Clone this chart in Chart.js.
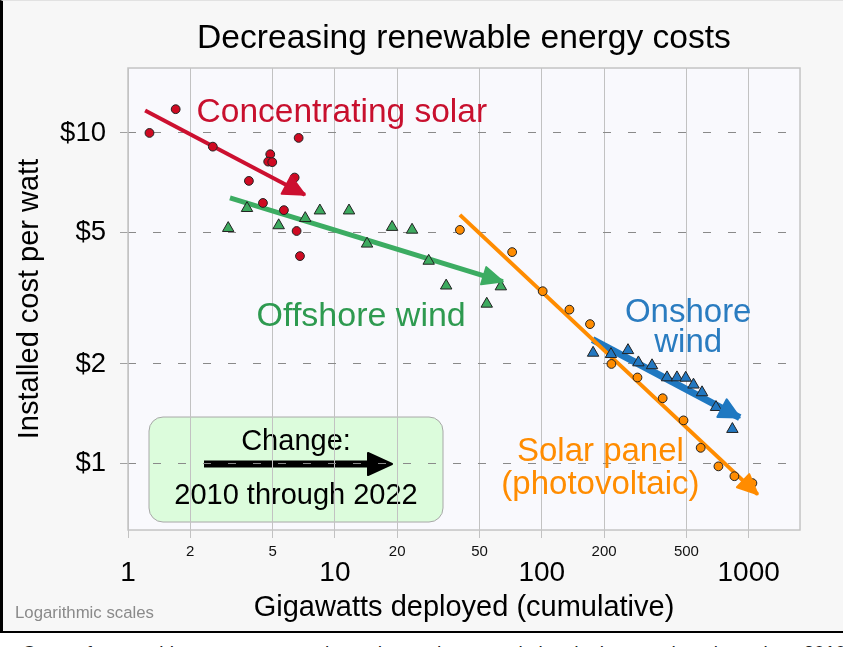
<!DOCTYPE html>
<html>
<head>
<meta charset="utf-8">
<script src="https://cdn.jsdelivr.net/npm/chart.js@4.4.1/dist/chart.umd.min.js"></script>
<style>
  html, body { margin: 0; padding: 0; background: #fff; overflow: hidden; width: 843px; height: 647px;
    font-family: "Liberation Sans", Arial, sans-serif; }
  #frame { position: absolute; left: 0; top: 0; width: 843px; height: 633px; box-sizing: border-box;
    background: #f7f7f7; border-left: 3px solid #000; border-bottom: 2px solid #000; border-top: 1px solid #e2e2e2; }
  #wrap { position: absolute; left: 0; top: 0; width: 843px; height: 630px; }
  #caption { position: absolute; left: 22px; top: 642px; font-size: 19px; color: #202122; white-space: nowrap; }
</style>
</head>
<body>
<div id="frame"></div>
<div id="wrap"><canvas id="costChart" width="843" height="630"></canvas></div>
<div id="caption">Costs of renewable energy sources have dropped as cumulative deployment has risen since 2010. Data source (2023)</div>
<script>
// data: cumulative GW deployed vs installed $ per watt

// concentrating solar
const cspGW   = [1.27, 1.70, 2.57, 4.87, 4.76, 4.98, 6.68, 6.39, 3.84, 4.49, 5.67, 6.53, 6.78];
const cspCost = [10.0, 11.8, 9.09, 8.62, 8.19, 8.16, 9.66, 7.33, 7.16, 6.14, 5.84, 5.05, 4.24];

// offshore wind
const offGW   = [3.05, 3.76, 5.35, 7.19, 8.46, 11.7, 14.3, 18.9, 23.6, 28.4, 34.5, 54.2, 63.4];
const offCost = [5.15, 5.92, 5.25, 5.52, 5.82, 5.82, 4.62, 5.19, 5.09, 4.10, 3.45, 3.04, 3.43];

// solar panel (photovoltaic)
const pvGW   = [40.2, 71.9, 101, 136, 171, 217, 290, 384, 484, 586, 714, 853, 1042];
const pvCost = [5.09, 4.36, 3.32, 2.92, 2.64, 2.00, 1.82, 1.575, 1.35, 1.115, 0.98, 0.915, 0.872];

// onshore wind
const onGW   = [177, 216, 261, 293, 341, 403, 450, 496, 541, 595, 695, 768, 834];
const onCost = [2.16, 2.14, 2.20, 2.02, 1.98, 1.82, 1.82, 1.815, 1.73, 1.64, 1.48, 1.41, 1.27];

// trend arrows (start, tip)
const cspTrendGW = [1.21, 7.16],  cspTrendCost = [11.7, 6.50];
const offTrendGW = [3.11, 64.8],  offTrendCost = [6.36, 3.55];
const pvTrendGW  = [40.2, 1105],  pvTrendCost  = [5.65, 0.806];
const onTrendGW  = [176, 905],    onTrendCost  = [2.37, 1.377];

// ticks
const xGridTicks  = [1, 2, 5, 10, 20, 50, 100, 200, 500, 1000];
const xMinorLabels = [2, 5, 20, 50, 200, 500];
const xMajorTicks = [1, 10, 100, 1000];
const yTicks = [1, 2, 5, 10];

const pts = (xs, ys) => xs.map((x, i) => ({ x: x, y: ys[i] }));

const FONT = '"Liberation Sans", Arial, sans-serif';
Chart.defaults.font.family = FONT;
Chart.defaults.color = '#000';

// text labels anchored in data space
const notes = [
  { lines: ['Concentrating solar'], x: 10.8, y: 11.5, color: '#c8102e', gap: 0, size: 33.5 },
  { lines: ['Offshore wind'], x: 13.4, y: 2.78, color: '#2e9a50', gap: 0, size: 34 },
  { lines: ['Onshore', 'wind'], x: 510, y: 2.86, color: '#2a7cc0', gap: 30, size: 33 },
  { lines: ['Solar panel', '(photovoltaic)'], x: 192, y: 1.087, color: '#ff8c00', gap: 33, size: 33 }
];

function arrowHead(ctx, x0, y0, x1, y1, len, half, color) {
  const dx = x1 - x0, dy = y1 - y0;
  const d = Math.hypot(dx, dy);
  const ux = dx / d, uy = dy / d;
  const bx = x1 - ux * len, by = y1 - uy * len;
  ctx.beginPath();
  ctx.moveTo(x1, y1);
  ctx.lineTo(bx - uy * half, by + ux * half);
  ctx.lineTo(bx + uy * half, by - ux * half);
  ctx.closePath();
  ctx.fillStyle = color;
  ctx.strokeStyle = color;
  ctx.lineWidth = 2;
  ctx.lineJoin = 'round';
  ctx.fill();
  ctx.stroke();
}

const decor = {
  id: 'decor',
  beforeDraw(chart) {
    const { ctx, chartArea: a } = chart;
    ctx.save();
    ctx.fillStyle = '#f9f9fd';
    ctx.fillRect(a.left, a.top, a.width, a.height);

    // "Change" legend box
    const bx = a.left + 21, by = a.top + 349, bw = 294, bh = 105;
    ctx.beginPath();
    ctx.roundRect(bx, by, bw, bh, 14);
    ctx.fillStyle = '#dcfcdc';
    ctx.fill();
    ctx.strokeStyle = '#a8a8a8';
    ctx.lineWidth = 1;
    ctx.stroke();
    ctx.fillStyle = '#000';
    ctx.font = '29px ' + FONT;
    ctx.textAlign = 'center';
    ctx.textBaseline = 'middle';
    ctx.fillText('Change:', bx + bw / 2, by + 25);
    ctx.fillText('2010 through 2022', bx + bw / 2, by + 79);
    ctx.beginPath();
    ctx.moveTo(bx + 55, by + 47);
    ctx.lineTo(bx + 225, by + 47);
    ctx.strokeStyle = '#000';
    ctx.lineWidth = 7;
    ctx.stroke();
    arrowHead(ctx, bx + 55, by + 47, bx + 243, by + 47, 24, 11, '#000');
    ctx.restore();
  },
  beforeDatasetsDraw(chart) {
    const { ctx, chartArea: a } = chart;
    ctx.save();
    ctx.strokeStyle = '#c4c4c4';
    ctx.lineWidth = 1.5;
    ctx.strokeRect(a.left, a.top, a.width, a.height);
    ctx.restore();
  },
  afterDatasetsDraw(chart) {
    const { ctx } = chart;
    ctx.save();
    chart.data.datasets.forEach((ds, i) => {
      if (!ds.arrow) return;
      const els = chart.getDatasetMeta(i).data;
      const p0 = els[els.length - 2], p1 = els[els.length - 1];
      arrowHead(ctx, p0.x, p0.y, p1.x, p1.y, ds.headLen, ds.headHalf, ds.borderColor);
    });
    ctx.restore();
  },
  afterDraw(chart) {
    const { ctx, scales } = chart;
    ctx.save();
    ctx.textAlign = 'center';
    ctx.textBaseline = 'middle';
    notes.forEach(n => {
      const px = scales.x.getPixelForValue(n.x);
      const py = scales.y.getPixelForValue(n.y);
      ctx.font = n.size + 'px ' + FONT;
      ctx.fillStyle = n.color;
      n.lines.forEach((t, k) => ctx.fillText(t, px, py + k * n.gap));
    });
    ctx.textAlign = 'left';
    ctx.font = '16.8px ' + FONT;
    ctx.fillStyle = '#8a8a8a';
    ctx.fillText('Logarithmic scales', 15, 613);
    ctx.restore();
  }
};

const trend = (xs, ys, color, width, headLen, headHalf) => ({
  type: 'line',
  data: pts(xs, ys),
  borderColor: color,
  borderWidth: width,
  pointRadius: 0,
  fill: false,
  order: 2,
  arrow: true,
  headLen: headLen,
  headHalf: headHalf
});

const marks = (xs, ys, color, style, radius) => ({
  type: 'scatter',
  data: pts(xs, ys),
  backgroundColor: color,
  borderColor: '#222',
  borderWidth: 1,
  pointStyle: style,
  pointRadius: radius,
  order: 1
});

const config = {
  data: {
    datasets: [
      trend(cspTrendGW, cspTrendCost, '#cc1030', 4, 21, 10),
      trend(offTrendGW, offTrendCost, '#3cac62', 5, 20, 9),
      trend(pvTrendGW, pvTrendCost, '#ff8c00', 4, 20, 9),
      trend(onTrendGW, onTrendCost, '#1f78c1', 7, 20, 10),
      marks(cspGW, cspCost, '#cf0a22', 'circle', 4.4),
      marks(offGW, offCost, '#3daa5f', 'triangle', 6.6),
      marks(pvGW, pvCost, '#ff8c00', 'circle', 4.4),
      marks(onGW, onCost, '#2277c0', 'triangle', 6.6)
    ]
  },
  options: {
    responsive: false,
    animation: false,
    layout: { padding: { left: 0, right: 43, top: 0, bottom: 0 } },
    plugins: {
      legend: { display: false },
      tooltip: { enabled: false },
      title: {
        display: true,
        text: 'Decreasing renewable energy costs',
        fullSize: false,
        color: '#000',
        font: { size: 33.6, weight: 'normal' },
        padding: { top: 18.6, bottom: 9.1 }
      }
    },
    scales: {
      x: {
        type: 'logarithmic',
        position: 'bottom',
        bounds: 'data',
        weight: 1,
        min: 1,
        max: 1770,
        afterBuildTicks: s => { s.ticks = xGridTicks.map(v => ({ value: v })); },
        afterFit: s => { s.height = 26; },
        ticks: {
          autoSkip: false,
          maxRotation: 0,
          padding: 4.5,
          font: { size: 15 },
          color: '#111',
          callback: v => xMinorLabels.includes(v) ? String(v) : ''
        },
        grid: { color: '#c2c2c2', lineWidth: 1, tickLength: 8, drawTicks: true },
        border: { display: false }
      },
      xMajor: {
        type: 'logarithmic',
        axis: 'x',
        position: 'bottom',
        bounds: 'data',
        weight: 2,
        min: 1,
        max: 1770,
        afterBuildTicks: s => { s.ticks = xMajorTicks.map(v => ({ value: v })); },
        afterFit: s => { s.height = 74; },
        ticks: {
          autoSkip: false,
          maxRotation: 0,
          padding: 0,
          font: { size: 28 },
          color: '#000',
          callback: v => String(v)
        },
        grid: { display: false, drawTicks: false },
        border: { display: false },
        title: {
          display: true,
          text: 'Gigawatts deployed (cumulative)',
          color: '#000',
          font: { size: 29 },
          padding: { top: 0, bottom: 4.8 }
        }
      },
      y: {
        type: 'logarithmic',
        position: 'left',
        bounds: 'data',
        min: 0.629,
        max: 15.72,
        afterBuildTicks: s => { s.ticks = yTicks.map(v => ({ value: v })); },
        afterFit: s => { s.width = 128; },
        ticks: {
          padding: 14,
          font: { size: 27.5 },
          color: '#000',
          callback: v => '$' + v
        },
        grid: {
          color: '#8a8a8a',
          lineWidth: 1,
          tickLength: 8,
          tickColor: '#a0a0a0',
          tickBorderDash: []
        },
        border: { display: false, dash: [8, 17] },
        title: {
          display: true,
          text: 'Installed cost per watt',
          color: '#000',
          font: { size: 29 },
          padding: { top: 12.6, bottom: 0 }
        }
      }
    }
  },
  plugins: [decor]
};

//render the chart
const costChart = new Chart(document.getElementById('costChart'), config);
</script>
</body>
</html>
